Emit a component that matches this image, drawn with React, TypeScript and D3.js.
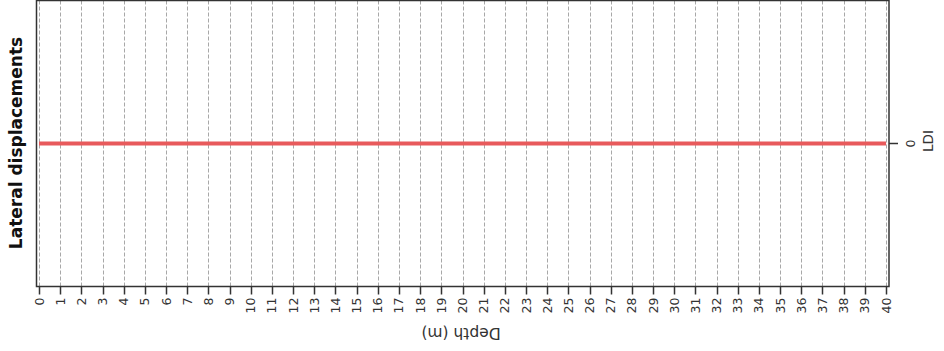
import React, { useEffect, useRef } from 'react'
import * as d3 from 'd3'

const depths = [0, 1, 2, 3, 4, 5, 6, 7, 8, 9, 10, 11, 12, 13, 14, 15, 16, 17, 18, 19, 20, 21, 22, 23, 24, 25, 26, 27, 28, 29, 30, 31, 32, 33, 34, 35, 36, 37, 38, 39, 40]
const ldi = [0, 0, 0, 0, 0, 0, 0, 0, 0, 0, 0, 0, 0, 0, 0, 0, 0, 0, 0, 0, 0, 0, 0, 0, 0, 0, 0, 0, 0, 0, 0, 0, 0, 0, 0, 0, 0, 0, 0, 0, 0]
const ldiTicks = [0]

const W = 944
const H = 351

export default function App() {
  const ref = useRef<SVGSVGElement | null>(null)

  useEffect(() => {
    if (!ref.current) return
    const svg = d3.select(ref.current)
    svg.selectAll('*').remove()

    const left = 36.5
    const right = 889
    const top = 0.5
    const bottom = 286.5

    const x = d3.scaleLinear().domain([0, 40]).range([39, 886])
    const y = d3.scaleLinear().domain([-1, 1]).range([bottom, top])

    const font = '"DejaVu Sans", Verdana, sans-serif'

    // grid
    svg
      .append('g')
      .selectAll('line')
      .data(depths)
      .join('line')
      .attr('x1', (d) => Math.round(x(d)) + 0.5)
      .attr('x2', (d) => Math.round(x(d)) + 0.5)
      .attr('y1', top)
      .attr('y2', bottom)
      .attr('stroke', '#a8a8a8')
      .attr('stroke-width', 1)
      .attr('stroke-dasharray', '4,2')

    // data line
    const line = d3
      .line<number>()
      .x((_, i) => x(depths[i]))
      .y((d) => y(d))
    svg
      .append('path')
      .datum(ldi)
      .attr('d', line)
      .attr('fill', 'none')
      .attr('stroke', '#e85a5c')
      .attr('stroke-width', 4)

    // frame
    svg
      .append('rect')
      .attr('x', left)
      .attr('y', top)
      .attr('width', right - left)
      .attr('height', bottom - top)
      .attr('fill', 'none')
      .attr('stroke', '#333')
      .attr('stroke-width', 1.5)

    // depth axis
    const xAxis = svg.append('g')
    xAxis
      .selectAll('line')
      .data(depths)
      .join('line')
      .attr('x1', (d) => Math.round(x(d)) + 0.5)
      .attr('x2', (d) => Math.round(x(d)) + 0.5)
      .attr('y1', bottom)
      .attr('y2', bottom + 8)
      .attr('stroke', '#333')
      .attr('stroke-width', 1.5)
    xAxis
      .selectAll('text')
      .data(depths)
      .join('text')
      .attr('transform', (d) => `translate(${x(d) + 4.5},${bottom + 11}) rotate(-90)`)
      .attr('text-anchor', 'end')
      .attr('font-family', font)
      .attr('font-size', 12.5)
      .attr('fill', '#333')
      .text((d) => d)

    svg
      .append('text')
      .attr('transform', `translate(461,328) rotate(180)`)
      .attr('text-anchor', 'middle')
      .attr('font-family', font)
      .attr('font-size', 15.5)
      .attr('fill', '#333')
      .text('Depth (m)')

    // LDI axis
    const yAxis = svg.append('g')
    yAxis
      .selectAll('line')
      .data(ldiTicks)
      .join('line')
      .attr('x1', right)
      .attr('x2', right + 9)
      .attr('y1', (d) => y(d))
      .attr('y2', (d) => y(d))
      .attr('stroke', '#333')
      .attr('stroke-width', 1.5)
    yAxis
      .selectAll('text')
      .data(ldiTicks)
      .join('text')
      .attr('transform', (d) => `translate(${right + 26},${y(d)}) rotate(-90)`)
      .attr('text-anchor', 'middle')
      .attr('font-family', font)
      .attr('font-size', 12.5)
      .attr('fill', '#333')
      .text((d) => d)

    svg
      .append('text')
      .attr('transform', `translate(933,141) rotate(-90)`)
      .attr('text-anchor', 'middle')
      .attr('font-family', font)
      .attr('font-size', 13.5)
      .attr('fill', '#333')
      .text('LDI')

    svg
      .append('text')
      .attr('transform', `translate(22,143) rotate(-90)`)
      .attr('text-anchor', 'middle')
      .attr('font-family', font)
      .attr('font-weight', 'bold')
      .attr('font-size', 17)
      .attr('fill', '#111')
      .text('Lateral displacements')
  }, [])

  return (
    <svg
      ref={ref}
      width={W}
      height={H}
      style={{ position: 'absolute', left: 0, top: 0, background: '#fff' }}
      role="img"
      aria-label="Lateral displacements chart"
    />
  )
}
